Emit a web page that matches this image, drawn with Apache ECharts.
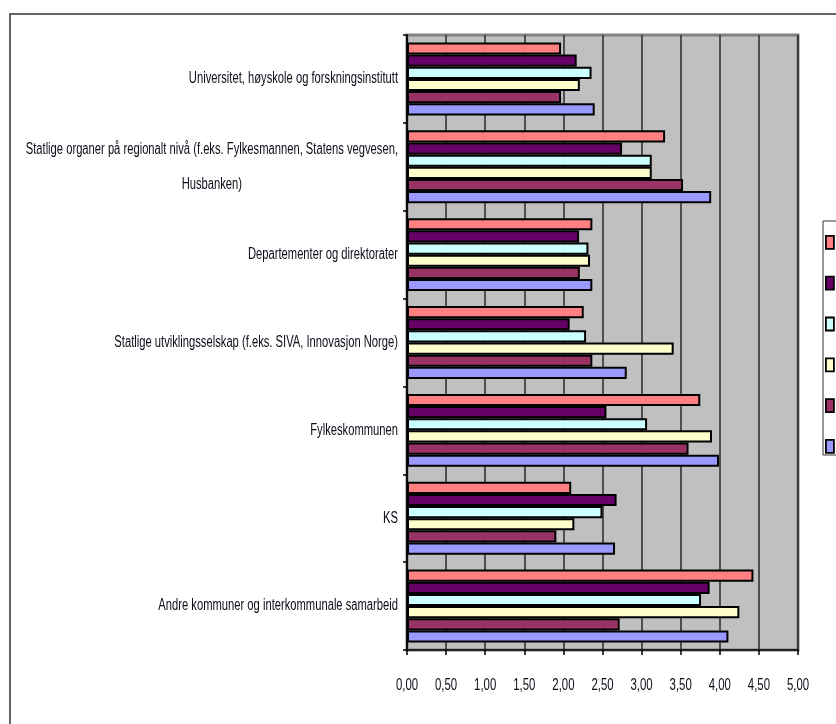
<!DOCTYPE html>
<html>
<head>
<meta charset="utf-8">
<script src="https://cdn.jsdelivr.net/npm/echarts@6/dist/echarts.min.js"></script>
<style>
  html, body { margin: 0; padding: 0; background: #fff; }
  #chart { width: 836px; height: 724px; }
</style>
</head>
<body>
<div id="chart"></div>
<script>
// Categories, top to bottom
const categories = [
  'Universitet, høyskole og forskningsinstitutt',
  'Statlige organer på regionalt nivå (f.eks. Fylkesmannen, Statens vegvesen,\nHusbanken)',
  'Departementer og direktorater',
  'Statlige utviklingsselskap (f.eks. SIVA, Innovasjon Norge)',
  'Fylkeskommunen',
  'KS',
  'Andre kommuner og interkommunale samarbeid'
];

const seriesNames = ['Serie1', 'Serie2', 'Serie3', 'Serie4', 'Serie5', 'Serie6'];

// Values per series, in category order
const serie1 = [1.97, 3.30, 2.37, 2.26, 3.75, 2.10, 4.43];
const serie2 = [2.17, 2.75, 2.20, 2.08, 2.55, 2.68, 3.87];
const serie3 = [2.36, 3.13, 2.32, 2.29, 3.07, 2.50, 3.76];
const serie4 = [2.21, 3.13, 2.34, 3.41, 3.90, 2.14, 4.25];
const serie5 = [1.97, 3.53, 2.21, 2.37, 3.60, 1.91, 2.72];
const serie6 = [2.40, 3.89, 2.37, 2.81, 3.99, 2.66, 4.11];

// Value axis ticks
const xTickValues = [0, 0.5, 1, 1.5, 2, 2.5, 3, 3.5, 4, 4.5, 5];
const xTickLabels = xTickValues.map(v => v.toFixed(2).replace('.', ','));

const seriesValues = [serie1, serie2, serie3, serie4, serie5, serie6];
const colors = ['#FF8080', '#660066', '#CCFFFF', '#FFFFCC', '#993366', '#9999FF'];

const FONT = "'Liberation Sans', Arial, sans-serif";
const TEXT_COLOR = '#0d0d1a';
// condensed look for the axis texts
const CAT_SIZE = 16, CAT_SCALE = 0.7;
const TICK_SIZE = 17, TICK_SCALE = 0.67;

const measureCtx = document.createElement('canvas').getContext('2d');
function textWidth(s, size) {
  measureCtx.font = size + 'px ' + FONT;
  return measureCtx.measureText(s).width;
}

const chart = echarts.init(document.getElementById('chart'), null, { renderer: 'canvas' });

chart.setOption({
  animation: false,
  backgroundColor: '#ffffff',
  color: colors,
  grid: {
    left: 407, right: 38, top: 35, bottom: 74,
    outerBoundsMode: 'none',
    containLabel: false,
    show: true,
    backgroundColor: '#C0C0C0',
    borderColor: '#808080',
    borderWidth: 3
  },
  xAxis: {
    type: 'value',
    min: xTickValues[0], max: xTickValues[xTickValues.length - 1],
    interval: xTickValues[1] - xTickValues[0],
    axisLine: { show: true, lineStyle: { color: '#000', width: 1.5 } },
    axisTick: { show: true, length: 5, lineStyle: { color: '#000', width: 1.5 } },
    splitLine: { show: true, lineStyle: { color: '#2a2a2a', width: 1.5 } },
    axisLabel: { show: false }
  },
  yAxis: {
    type: 'category',
    inverse: true,
    data: categories,
    axisLine: { show: true, lineStyle: { color: '#000', width: 1.5 } },
    axisTick: { show: true, length: 4, lineStyle: { color: '#000', width: 1.5 } },
    splitLine: { show: false },
    axisLabel: { show: false }
  },
  legend: {
    orient: 'vertical',
    left: 825,
    top: 235,
    padding: 0,
    itemWidth: 8,
    itemHeight: 13,
    itemGap: 26,
    icon: 'rect',
    formatter: () => '',
    textStyle: { fontSize: 12, fontFamily: FONT },
    itemStyle: { borderColor: '#000', borderWidth: 1.8 },
    selectedMode: false
  },
  series: seriesValues.map((vals, i) => ({
    name: seriesNames[i],
    type: 'bar',
    data: vals,
    barGap: '0%',
    barCategoryGap: '17%',
    itemStyle: { color: colors[i], borderColor: '#000', borderWidth: 2 }
  }))
});

// Axis texts, placed through the axes' own scales
const x0 = chart.convertToPixel({ xAxisIndex: 0 }, 0);
const axisY = chart.convertToPixel({ yAxisIndex: 0 }, categories.length - 1) +
  (chart.convertToPixel({ yAxisIndex: 0 }, 1) - chart.convertToPixel({ yAxisIndex: 0 }, 0)) / 2;

const graphics = [
  // outer chart frame
  { type: 'rect', shape: { x: 10, y: 14, width: 900, height: 800 }, style: { fill: 'none', stroke: '#333', lineWidth: 1.5 }, silent: true },
  // legend frame
  { type: 'rect', shape: { x: 823, y: 221, width: 100, height: 234 }, style: { fill: 'none', stroke: '#333', lineWidth: 1 }, silent: true }
];

categories.forEach((cat, i) => {
  const cy = chart.convertToPixel({ yAxisIndex: 0 }, i);
  const right = x0 - 9;
  if (cat.indexOf('\n') >= 0) {
    const lines = cat.split('\n');
    const w = Math.max.apply(null, lines.map(l => textWidth(l, CAT_SIZE))) * CAT_SCALE;
    graphics.push({
      type: 'text', x: right - w / 2, y: cy, scaleX: CAT_SCALE, silent: true,
      style: { text: cat, x: 0, y: 0, align: 'center', verticalAlign: 'middle', lineHeight: 35,
        font: CAT_SIZE + 'px ' + FONT, fill: TEXT_COLOR }
    });
  } else {
    graphics.push({
      type: 'text', x: right, y: cy, scaleX: CAT_SCALE, silent: true,
      style: { text: cat, x: 0, y: 0, align: 'right', verticalAlign: 'middle',
        font: CAT_SIZE + 'px ' + FONT, fill: TEXT_COLOR }
    });
  }
});

xTickValues.forEach((v, i) => {
  graphics.push({
    type: 'text', x: chart.convertToPixel({ xAxisIndex: 0 }, v), y: axisY + 35, scaleX: TICK_SCALE, silent: true,
    style: { text: xTickLabels[i], x: 0, y: 0, align: 'center', verticalAlign: 'middle',
      font: TICK_SIZE + 'px ' + FONT, fill: TEXT_COLOR }
  });
});

chart.setOption({ graphic: graphics });
</script>
</body>
</html>
